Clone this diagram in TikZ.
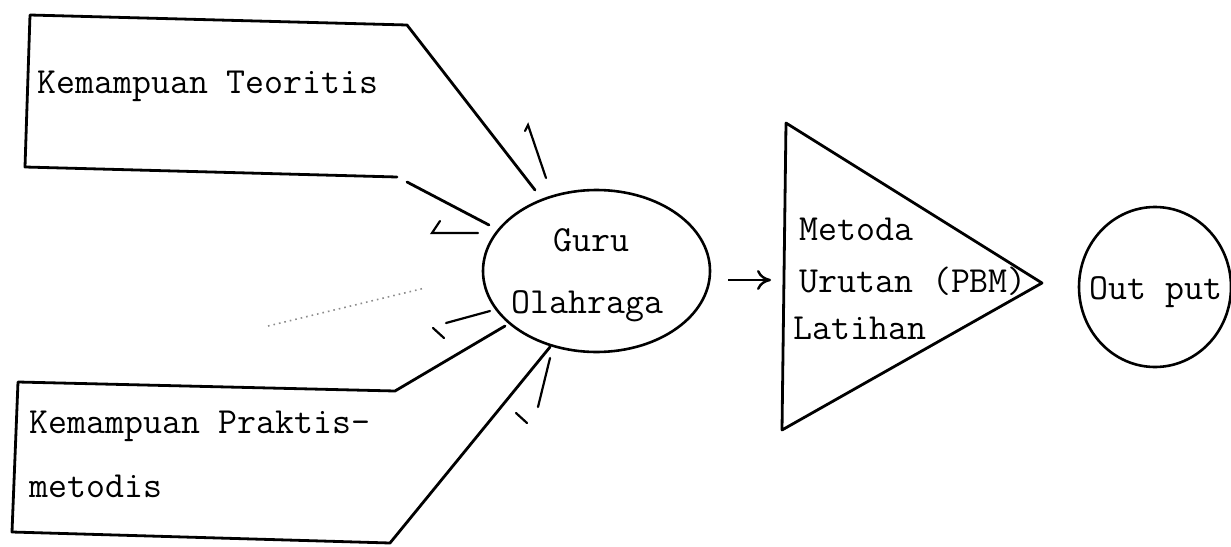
\documentclass[tikz,border=0pt]{standalone}
\usetikzlibrary{shapes.geometric,arrows.meta}
\tikzset{
  edge/.style={line width=1.4pt, line cap=round, line join=round},
  tick/.style={line width=1.1pt, line cap=round},
  txt/.style={anchor=base west, inner sep=0pt, font=\fontsize{18.4}{20}\selectfont\ttfamily},
  oval/.style={draw, ellipse, line width=1.3pt, inner sep=0pt},
}
\begin{document}
\begin{tikzpicture}[x=0.5pt,y=-0.5pt]
\useasboundingbox (0,0) rectangle (1231,546);
% top box (Kemampuan Teoritis)
\coordinate (t1) at (30,15);
\coordinate (t2) at (407,25);
\coordinate (t3) at (535,190);
\coordinate (t4) at (25,167);
\coordinate (t5) at (397,177);
\coordinate (t6) at (407,182);
\coordinate (t7) at (489,225);
\draw[edge] (t3) -- (t2) -- (t1) -- (t4) -- (t5);
\draw[edge] (t6) -- (t7);
\node[txt] (teori) at (37,93) {Kemampuan Teoritis};
% bottom box (Kemampuan Praktis-metodis)
\coordinate (b1) at (18,382);
\coordinate (b2) at (395,391);
\coordinate (b3) at (505,326);
\coordinate (b4) at (12,532);
\coordinate (b5) at (390,543);
\coordinate (b6) at (550,347);
\draw[edge] (b3) -- (b2) -- (b1) -- (b4) -- (b5) -- (b6);
\node[txt] (prak1) at (29,433) {Kemampuan Praktis-};
\node[txt] (prak2) at (29,497) {metodis};
% central ellipse
\node[oval, minimum width=113.5pt, minimum height=81pt] (guru) at (596.5,271) {};
\node[txt] (guru1) at (553,251) {Guru};
\node[txt] (guru2) at (511,313) {Olahraga};
% ticks around the ellipse
\coordinate (k1a) at (525,131); \coordinate (k1b) at (528,125); \coordinate (k1c) at (546,178);
\draw[tick] (k1a) -- (k1b) -- (k1c);
\coordinate (k2a) at (440,221); \coordinate (k2b) at (432,233); \coordinate (k2c) at (478,233);
\draw[tick] (k2a) -- (k2b) -- (k2c);
\coordinate (k3a) at (446,323); \coordinate (k3b) at (490,311);
\draw[tick] (k3a) -- (k3b);
\coordinate (k4a) at (433,328); \coordinate (k4b) at (444,338);
\draw[tick] (k4a) -- (k4b);
\coordinate (k5a) at (550,358); \coordinate (k5b) at (538,407);
\draw[tick] (k5a) -- (k5b);
\coordinate (k6a) at (516,413); \coordinate (k6b) at (527,423);
\draw[tick] (k6a) -- (k6b);
\coordinate (d1) at (268,326); \coordinate (d2) at (425,288);
\draw[line width=0.8pt, black!45, dotted] (d1) -- (d2);
% arrow to triangle
\coordinate (a1) at (728,280); \coordinate (a2) at (771,280);
\draw[line width=1.2pt, -{To[length=7pt,width=10pt]}] (a1) -- (a2);
% triangle
\coordinate (p1) at (786,123);
\coordinate (p2) at (1042,283);
\coordinate (p3) at (782,430);
\draw[edge] (p1) -- (p2) -- (p3) -- cycle;
\node[txt] (met1) at (799,240) {Metoda};
\node[txt] (met2) at (799,292) {Urutan (PBM)};
\node[txt] (met3) at (793,339) {Latihan};
% output circle
\node[oval, minimum width=76pt, minimum height=80pt] (out) at (1155,287) {};
\node[txt] (outt) at (1089,299) {Out put};
\end{tikzpicture}
\end{document}
